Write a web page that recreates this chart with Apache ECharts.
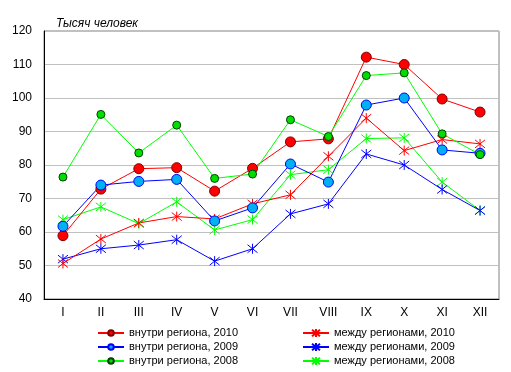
<!DOCTYPE html>
<html><head><meta charset="utf-8">
<script src="https://cdn.jsdelivr.net/npm/echarts@6/dist/echarts.min.js"></script>
<style>html,body{margin:0;padding:0;background:#fff}#c{width:511px;height:372px}</style>
</head><body><div id="c"></div>
<script>
const months = ['I','II','III','IV','V','VI','VII','VIII','IX','X','XI','XII'];
const yTicks = [40,50,60,70,80,90,100,110,120];
const inside2010 = [58.9,72.8,78.9,79.2,72.2,79.0,86.9,87.8,112.2,110.0,99.7,95.8];
const inside2009 = [61.7,74.0,75.1,75.7,63.3,67.2,80.3,74.9,97.9,100.0,84.5,83.5];
const inside2008 = [76.4,95.1,83.6,91.9,76.0,77.3,93.5,88.5,106.7,107.5,89.3,83.1];
const between2010 = [50.6,57.9,62.7,64.6,63.9,68.4,71.1,82.6,94.0,84.3,87.6,86.3];
const between2009 = [51.9,55.0,56.1,57.7,51.3,55.0,65.4,68.4,83.3,80.0,72.7,66.4];
const between2008 = [63.7,67.5,62.5,69.0,60.6,63.7,77.1,78.6,87.9,88.1,74.9,66.4];
const names = {
  i10:'внутри региона, 2010', i09:'внутри региона, 2009', i08:'внутри региона, 2008',
  b10:'между регионами, 2010', b09:'между регионами, 2009', b08:'между регионами, 2008'
};
const star = 'path://M0,-1L0,1M-0.8,-0.8L0.8,0.8M-0.8,0.8L0.8,-0.8';
const font = 'Liberation Sans, Arial, sans-serif';
function circ(name, data, line, fill, border, size){
  return {name, type:'line', data, symbol:'circle', symbolSize:size,
    lineStyle:{color:line,width:1}, itemStyle:{color:fill,borderColor:border,borderWidth:1},
    emphasis:{disabled:true}, animation:false};
}
function ast(name, data, c){
  return {name, type:'line', data, symbol:star, symbolSize:10,
    lineStyle:{color:c,width:1}, itemStyle:{color:c,borderColor:c,borderWidth:1},
    emphasis:{disabled:true}, animation:false};
}
const legText = {fontSize:11,color:'#000',fontFamily:font,lineHeight:14};
const chart = echarts.init(document.getElementById('c'), null, {renderer:'canvas'});
chart.setOption({
  backgroundColor:'#fff',
  animation:false,
  textStyle:{fontFamily:font},
  title:{text:'Тысяч человек', left:51, top:13,
    textStyle:{fontSize:12, fontStyle:'italic', fontWeight:'normal', color:'#000', fontFamily:font}},
  grid:{left:44, right:12, top:31, bottom:73, show:true, borderColor:'#808080', borderWidth:1, containLabel:false},
  xAxis:{type:'category', data:months, boundaryGap:true,
    axisLine:{lineStyle:{color:'#000',width:1}}, axisTick:{show:false},
    axisLabel:{color:'#000', fontSize:12, margin:8, fontFamily:font}},
  yAxis:{type:'value', min:yTicks[0], max:yTicks[yTicks.length-1], interval:10,
    axisLine:{show:true, lineStyle:{color:'#000',width:1}}, axisTick:{show:false},
    splitLine:{lineStyle:{color:'#C0C0C0',width:1}},
    axisLabel:{color:'#000', fontSize:12, margin:12, fontFamily:font}},
  legend:[
    {orient:'vertical', left:97, top:326, width:200, height:46, padding:0,
     itemWidth:26, itemHeight:7, itemGap:0,
     data:[names.i10,names.i09,names.i08], textStyle:legText},
    {orient:'vertical', left:302, top:326, width:200, height:46, padding:0,
     itemWidth:26, itemHeight:10, itemGap:0,
     data:[names.b10,names.b09,names.b08], textStyle:legText}
  ],
  series:[
    ast(names.b08, between2008, '#00FF00'),
    ast(names.b09, between2009, '#0000FF'),
    ast(names.b10, between2010, '#FF0000'),
    circ(names.i10, inside2010, '#FF0000', '#FF0000', '#800000', 10),
    circ(names.i09, inside2009, '#0000FF', '#00B0F0', '#0000FF', 10),
    circ(names.i08, inside2008, '#00FF00', '#00DD00', '#004000', 8)
  ]
});
</script></body></html>
